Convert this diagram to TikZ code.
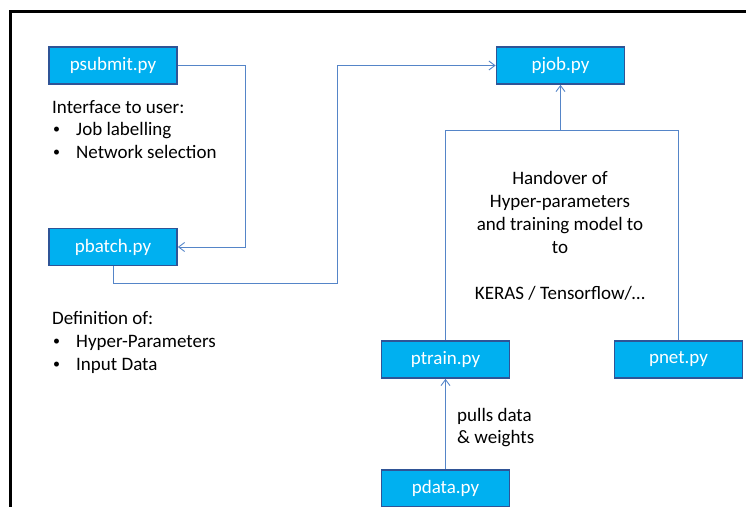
\documentclass[tikz,border=0pt]{standalone}
\usepackage{fontspec}
\setmainfont{Carlito}
\usetikzlibrary{arrows.meta}
\definecolor{boxfill}{HTML}{00B0F0}
\definecolor{boxedge}{HTML}{2F5496}
\definecolor{wire}{HTML}{5585C8}
\tikzset{
  pybox/.style={draw=boxedge, line width=1.8pt, fill=boxfill, text=white,
    minimum width=128pt, minimum height=37pt, inner sep=0pt,
    font=\fontsize{19}{23}\selectfont},
  wirestyle/.style={draw=wire, line width=1pt},
  arrowed/.style={wirestyle, -{Straight Barb[length=6pt,width=9pt,line width=0.9pt]}},
  txt/.style={inner sep=0pt, font=\fontsize{19}{23}\selectfont, text=black},
}
% bulleted line: small bullet, text indented to a fixed tab
\newcommand{\bul}[1]{\makebox[24pt][l]{\hspace{1pt}\raisebox{1.6pt}{\fontsize{14}{14}\selectfont •}}#1}
\begin{document}
\begin{tikzpicture}[x=1pt, y=-1pt]
  \useasboundingbox (0,0) rectangle (746,506);
  \clip (0,0) rectangle (746,506);
  % outer frame
  \draw[line width=2.4pt] (10.5,520) -- (10.5,11.5) -- (760,11.5);

  % script boxes
  \node[pybox] (psubmit) at (113,65.5) {psubmit.py};
  \node[pybox] (pbatch)  at (113,247)  {pbatch.py};
  \node[pybox] (pjob)    at (560.5,65.5) {pjob.py};
  \node[pybox] (ptrain)  at (445.5,359.5) {ptrain.py};
  \node[pybox] (pnet)    at (678.5,359.5) {pnet.py};
  \node[pybox] (pdata)   at (445.5,488.5) {pdata.py};

  % description of psubmit.py
  \node[txt, anchor=base west] (ui1) at (52,113)   {Interface to user:};
  \node[txt, anchor=base west] (ui2) at (52,135.5) {\bul{Job labelling}};
  \node[txt, anchor=base west] (ui3) at (52,158)   {\bul{Network selection}};

  % description of pbatch.py
  \node[txt, anchor=base west] (df1) at (52,324) {Definition of:};
  \node[txt, anchor=base west] (df2) at (52,347) {\bul{Hyper-Parameters}};
  \node[txt, anchor=base west] (df3) at (52,370) {\bul{Input Data}};

  % handover text
  \node[txt, anchor=base] (ho1) at (560,184) {Handover of};
  \node[txt, anchor=base] (ho2) at (560,207) {Hyper-parameters};
  \node[txt, anchor=base] (ho3) at (560,230) {and training model to};
  \node[txt, anchor=base] (ho4) at (560,253) {to};
  \node[txt, anchor=base] (ho5) at (560,299) {KERAS / Tensorflow/…};

  % data label
  \node[txt, anchor=base west] (pl1) at (457,421) {pulls data};
  \node[txt, anchor=base west] (pl2) at (457,443) {\& weights};

  % connectors
  \draw[arrowed] (psubmit.east) -- ++(68,0) |- (pbatch.east);
  \coordinate (bend) at (337,283);
  \draw[arrowed] (pbatch.south) |- (bend) |- (pjob.west);
  \coordinate (join) at (560.5,130.5);
  \draw[wirestyle] (ptrain.north) |- (join);
  \draw[wirestyle] (pnet.north) |- (join);
  \draw[arrowed] (join) -- (pjob.south);
  \draw[arrowed] (pdata.north) -- (ptrain.south);
\end{tikzpicture}
\end{document}
